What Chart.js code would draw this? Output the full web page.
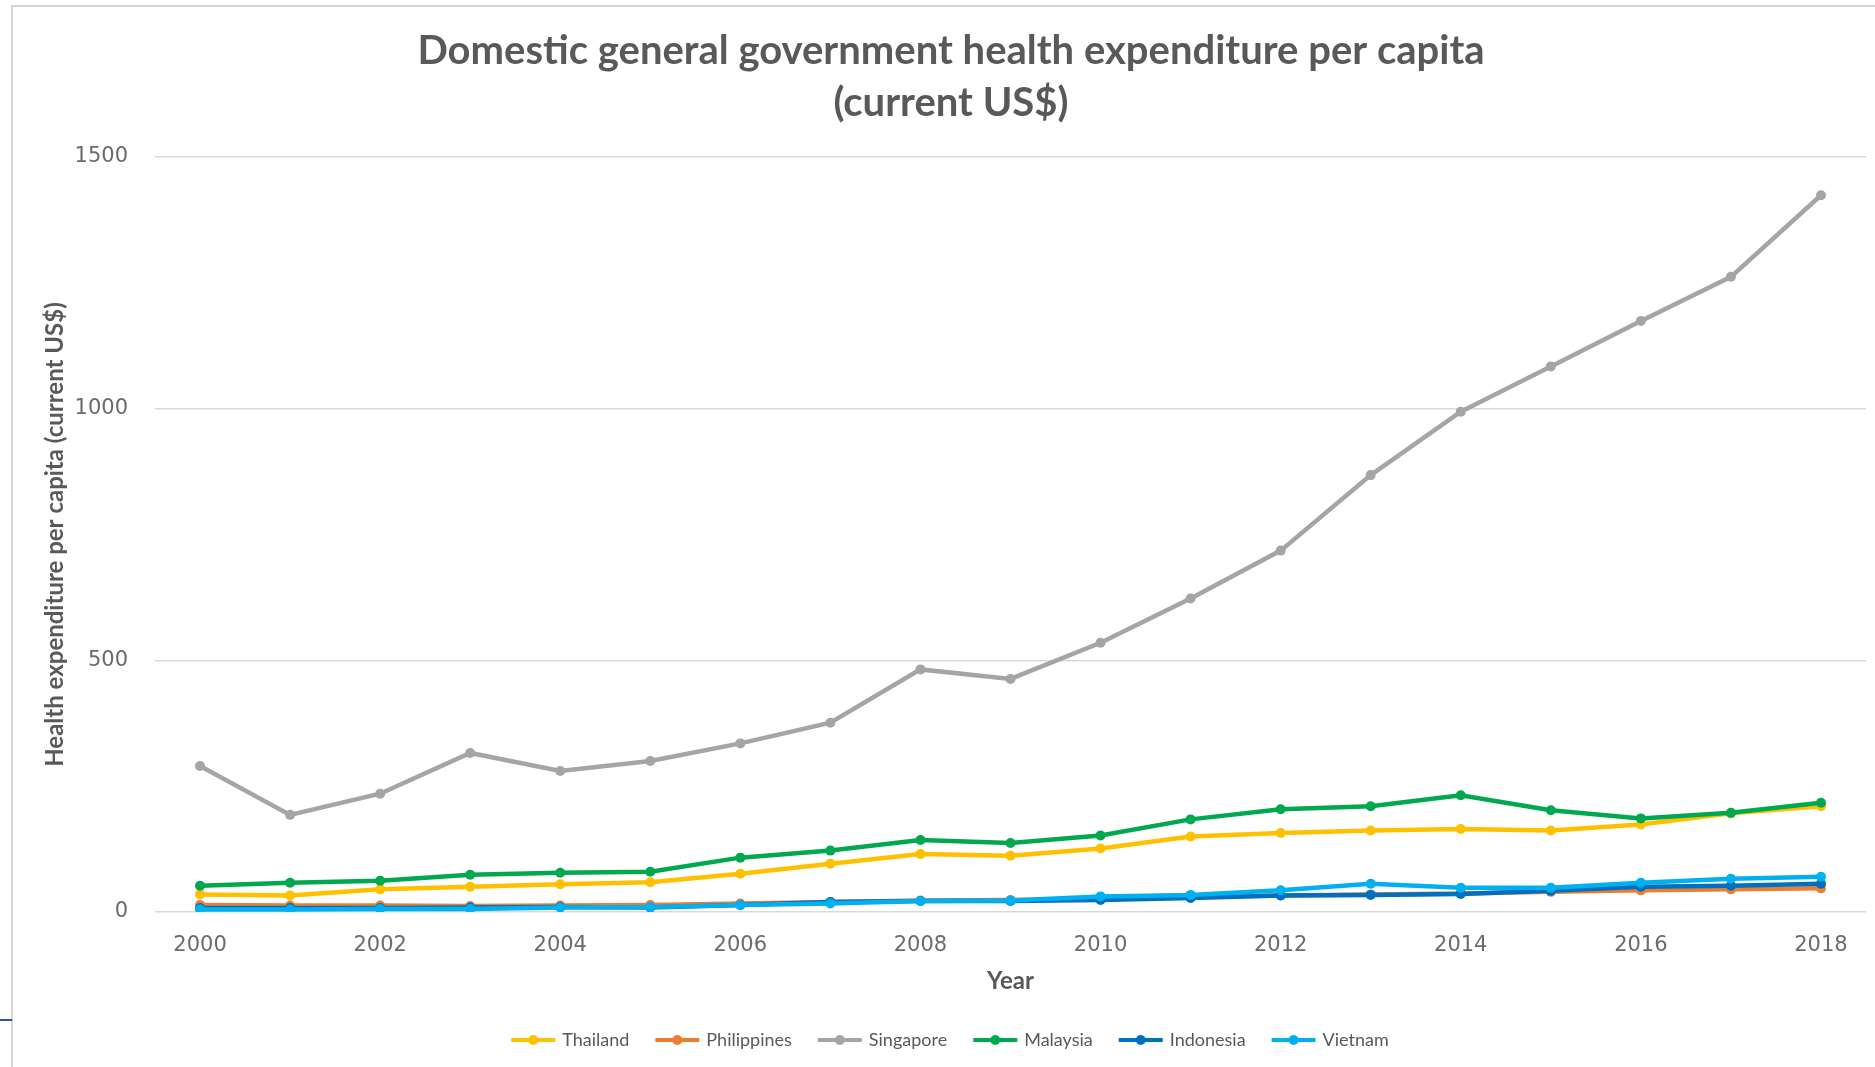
<!DOCTYPE html>
<html>
<head>
<meta charset="utf-8">
<script src="https://cdn.jsdelivr.net/npm/chart.js@4.4.1/dist/chart.umd.min.js"></script>
<style>
  html, body { margin: 0; padding: 0; background: #ffffff; }
  #wrap { position: relative; width: 1875px; height: 1067px; overflow: hidden; }
  #c { position: absolute; left: 0; top: 0; }
  .frameTop { position: absolute; left: 11px; top: 5px; width: 1864px; height: 2px; background: #d4d4d4; }
  .frameLeft { position: absolute; left: 11px; top: 5px; width: 2px; height: 1062px; background: #d4d4d4; }
  .frameBlue { position: absolute; left: 0; top: 1019px; width: 12px; height: 2px; background: #2f5597; }
</style>
</head>
<body>
<div id="wrap">
  <canvas id="c" width="1875" height="1067"></canvas>
  <div class="frameTop"></div>
  <div class="frameLeft"></div>
  <div class="frameBlue"></div>
</div>
<script>
const years = ['2000','2001','2002','2003','2004','2005','2006','2007','2008','2009','2010','2011','2012','2013','2014','2015','2016','2017','2018'];
const yTicks = [0, 500, 1000, 1500];
const seriesNames = ['Thailand', 'Philippines', 'Singapore', 'Malaysia', 'Indonesia', 'Vietnam'];
const thailand    = [35, 33, 45, 50, 55, 59, 76, 96, 115, 112, 126, 150, 157, 162, 165, 162, 174, 196, 210];
const philippines = [14, 13, 13, 12, 13, 14, 17, 20, 23, 24, 26, 30, 33, 35, 37, 40, 43, 45, 47];
const singapore   = [290, 193, 235, 316, 280, 300, 335, 376, 482, 463, 535, 623, 718, 868, 994, 1084, 1174, 1262, 1424];
const malaysia    = [52, 58, 62, 74, 78, 80, 108, 122, 143, 137, 152, 184, 204, 210, 232, 202, 186, 197, 217];
const indonesia   = [8, 8, 8, 9, 10, 9, 14, 20, 22, 22, 24, 28, 33, 34, 36, 42, 50, 52, 56];
const vietnam     = [5, 5, 6, 6, 9, 10, 14, 17, 22, 23, 31, 34, 43, 56, 48, 48, 58, 66, 70];

const colors = ['#FFC000', '#ED7D31', '#A5A5A5', '#00A84F', '#0070C0', '#00B0F0'];
const values = [thailand, philippines, singapore, malaysia, indonesia, vietnam];

function legendIcon(color) {
  const cv = document.createElement('canvas');
  cv.width = 46; cv.height = 12;
  const g = cv.getContext('2d');
  g.strokeStyle = color; g.lineWidth = 4;
  g.beginPath(); g.moveTo(1, 6); g.lineTo(45, 6); g.stroke();
  g.fillStyle = color;
  g.beginPath(); g.arc(23, 6, 5, 0, Math.PI * 2); g.fill();
  return cv;
}
const icons = colors.map(legendIcon);

const datasets = seriesNames.map((name, i) => ({
  label: name,
  data: values[i],
  borderColor: colors[i],
  backgroundColor: colors[i],
  borderWidth: 4.5,
  pointRadius: 5,
  pointBorderWidth: 0,
  pointBackgroundColor: colors[i],
  tension: 0,
  fill: false,
  order: seriesNames.length - i
}));

const textGrey = '#595959';

new Chart(document.getElementById('c'), {
  type: 'line',
  data: { labels: years, datasets: datasets },
  options: {
    responsive: false,
    animation: false,
    devicePixelRatio: 1,
    layout: { padding: { left: 36, right: 9, top: 0, bottom: 8 } },
    plugins: {
      title: {
        display: true,
        text: ['Domestic general government health expenditure per capita', '(current US$)'],
        color: textGrey,
        font: { family: 'Lato', size: 40, weight: 'bold', lineHeight: 1.3 },
        padding: { top: 25, bottom: 28 }
      },
      legend: {
        position: 'bottom',
        labels: {
          usePointStyle: true,
          pointStyleWidth: 40,
          boxHeight: 12,
          padding: 28,
          color: textGrey,
          font: { family: 'Lato', size: 18 },
          generateLabels: (chart) => chart.data.datasets.map((ds, i) => ({
            text: ds.label,
            fillStyle: colors[i],
            strokeStyle: colors[i],
            lineWidth: 0,
            pointStyle: icons[i],
            fontColor: textGrey,
            hidden: false,
            datasetIndex: i
          }))
        }
      },
      tooltip: { enabled: false }
    },
    scales: {
      x: {
        offset: true,
        afterFit: (scale) => { scale.height = 91; },
        grid: { display: false, drawTicks: false },
        border: { display: false },
        ticks: {
          autoSkip: false,
          maxRotation: 0,
          padding: 21,
          color: '#6b6b6b',
          font: { family: 'DejaVu Sans', size: 21 },
          callback: function (v, i) { const l = years[i]; return (parseInt(l, 10) % 2 === 0) ? l : ''; }
        },
        title: {
          display: true,
          text: 'Year',
          color: textGrey,
          font: { family: 'Lato', size: 24, weight: 'bold', lineHeight: 1.2 },
          padding: { top: 0, bottom: 7.5 }
        }
      },
      y: {
        min: 0,
        max: 1500,
        afterBuildTicks: (scale) => { scale.ticks = yTicks.map(v => ({ value: v })); },
        afterFit: (scale) => { scale.width = 119; },
        grid: { color: '#d9d9d9', lineWidth: 1.5, drawTicks: false },
        border: { display: false },
        ticks: {
          padding: 27,
          color: '#6b6b6b',
          font: { family: 'DejaVu Sans', size: 21 },
          callback: (v) => String(v)
        },
        title: {
          display: true,
          text: 'Health expenditure per capita (current US$)',
          color: textGrey,
          font: { family: 'Lato', size: 24, weight: 'bold', lineHeight: 1.2 },
          padding: { top: 5, bottom: 0 }
        }
      }
    }
  }
});
</script>
</body>
</html>
